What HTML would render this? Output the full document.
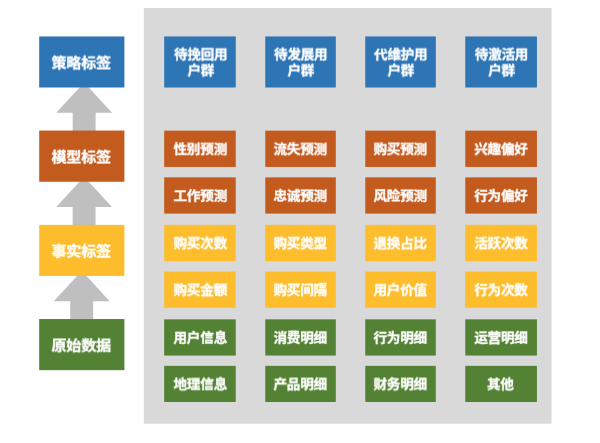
<!DOCTYPE html>
<html lang="zh-CN"><head><meta charset="utf-8"><title>标签体系</title>
<style>
html,body{margin:0;padding:0;background:#fff;}
body{width:600px;height:443px;position:relative;overflow:hidden;font-family:"Liberation Sans","Noto Sans CJK SC",sans-serif;}
svg{position:absolute;left:0;top:0;}
.bx{position:absolute;color:#fff;font-weight:bold;display:flex;align-items:center;justify-content:center;text-align:center;white-space:nowrap;}
.bx span{display:block;-webkit-text-stroke:0.3px #fff;}
.c{font-size:12.9px;line-height:16px;letter-spacing:-0.2px;}
.c span{transform:translateX(var(--dx)) scaleX(1.055);}
.c2 span{transform:translateX(var(--dx)) scaleX(1.05);}
.l{font-size:14.1px;letter-spacing:-0.2px;}
.l span{transform:translateX(var(--dx)) scaleX(1.07);}
</style></head><body>
<svg width="600" height="443" viewBox="0 0 600 443">
<rect x="143.75" y="8" width="407.8" height="415.65" fill="#d9d9d9"/>
<polygon fill="#bfbfbf" points="84.15,82.4 112.05,112.8 95.6,112.8 95.6,136.4 72.7,136.4 72.7,112.8 56.25,112.8"/>
<polygon fill="#bfbfbf" points="84.1,176.7 112,207.1 95.55,207.1 95.55,230.7 72.65,230.7 72.65,207.1 56.2,207.1"/>
<polygon fill="#bfbfbf" points="81.75,270.75 109.65,301.15 93.2,301.15 93.2,324.75 70.3,324.75 70.3,301.15 53.85,301.15"/>
<rect x="39.2" y="36.45" width="85.2" height="51.05" fill="#2e75b6"/>
<rect x="39.2" y="130.55" width="85.2" height="51.2" fill="#c35a1e"/>
<rect x="39.2" y="224.9" width="85.2" height="51" fill="#fdbd2d"/>
<rect x="39.2" y="319.05" width="85.2" height="51.1" fill="#548235"/>
<rect x="164.18" y="36.45" width="71.57" height="51.05" fill="#2e75b6"/>
<rect x="265.27" y="36.45" width="70.53" height="51.05" fill="#2e75b6"/>
<rect x="365.27" y="36.45" width="70.53" height="51.05" fill="#2e75b6"/>
<rect x="465.27" y="36.45" width="71.66" height="51.05" fill="#2e75b6"/>
<rect x="164.18" y="130.65" width="71.57" height="36.3" fill="#c35a1e"/>
<rect x="265.27" y="130.65" width="70.53" height="36.3" fill="#c35a1e"/>
<rect x="365.27" y="130.65" width="70.53" height="36.3" fill="#c35a1e"/>
<rect x="465.27" y="130.65" width="71.66" height="36.3" fill="#c35a1e"/>
<rect x="164.18" y="177.35" width="71.57" height="36.25" fill="#c35a1e"/>
<rect x="265.27" y="177.35" width="70.53" height="36.25" fill="#c35a1e"/>
<rect x="365.27" y="177.35" width="70.53" height="36.25" fill="#c35a1e"/>
<rect x="465.27" y="177.35" width="71.66" height="36.25" fill="#c35a1e"/>
<rect x="164.18" y="224.85" width="71.57" height="36.3" fill="#fdbd2d"/>
<rect x="265.27" y="224.85" width="70.53" height="36.3" fill="#fdbd2d"/>
<rect x="365.27" y="224.85" width="70.53" height="36.3" fill="#fdbd2d"/>
<rect x="465.27" y="224.85" width="71.66" height="36.3" fill="#fdbd2d"/>
<rect x="164.18" y="271.55" width="71.57" height="36.25" fill="#fdbd2d"/>
<rect x="265.27" y="271.55" width="70.53" height="36.25" fill="#fdbd2d"/>
<rect x="365.27" y="271.55" width="70.53" height="36.25" fill="#fdbd2d"/>
<rect x="465.27" y="271.55" width="71.66" height="36.25" fill="#fdbd2d"/>
<rect x="164.18" y="319.35" width="71.57" height="36.2" fill="#548235"/>
<rect x="265.27" y="319.35" width="70.53" height="36.2" fill="#548235"/>
<rect x="365.27" y="319.35" width="70.53" height="36.2" fill="#548235"/>
<rect x="465.27" y="319.35" width="71.66" height="36.2" fill="#548235"/>
<rect x="164.18" y="365.85" width="71.57" height="36.15" fill="#548235"/>
<rect x="265.27" y="365.85" width="70.53" height="36.15" fill="#548235"/>
<rect x="365.27" y="365.85" width="70.53" height="36.15" fill="#548235"/>
<rect x="465.27" y="365.85" width="71.66" height="36.15" fill="#548235"/>
</svg>
<svg width="0" height="0" aria-hidden="true"><defs>
<filter id="f1" x="-5%" y="-15%" width="110%" height="130%" color-interpolation-filters="sRGB"><feConvolveMatrix order="3" kernelMatrix="0.02 0.36 0.02 0.03 0.54 0.03 0 0 0" divisor="1" edgeMode="none" preserveAlpha="false"/></filter>
<filter id="f3" x="-5%" y="-15%" width="110%" height="130%" color-interpolation-filters="sRGB"><feConvolveMatrix order="3" kernelMatrix="0.01 0.18 0.01 0.04 0.72 0.04 0 0 0" divisor="1" edgeMode="none" preserveAlpha="false"/></filter>
<filter id="f5" x="-5%" y="-15%" width="110%" height="130%" color-interpolation-filters="sRGB"><feConvolveMatrix order="3" kernelMatrix="0.0025 0.045 0.0025 0.045 0.81 0.045 0.0025 0.045 0.0025" divisor="1" edgeMode="none" preserveAlpha="false"/></filter>
<filter id="f7" x="-5%" y="-15%" width="110%" height="130%" color-interpolation-filters="sRGB"><feConvolveMatrix order="3" kernelMatrix="0 0 0 0.04 0.72 0.04 0.01 0.18 0.01" divisor="1" edgeMode="none" preserveAlpha="false"/></filter>
<filter id="f8" x="-5%" y="-15%" width="110%" height="130%" color-interpolation-filters="sRGB"><feConvolveMatrix order="3" kernelMatrix="0 0 0 0.035 0.63 0.035 0.015 0.27 0.015" divisor="1" edgeMode="none" preserveAlpha="false"/></filter>
<filter id="f9" x="-5%" y="-15%" width="110%" height="130%" color-interpolation-filters="sRGB"><feConvolveMatrix order="3" kernelMatrix="0 0 0 0.03 0.54 0.03 0.02 0.36 0.02" divisor="1" edgeMode="none" preserveAlpha="false"/></filter>
<filter id="f10" x="-5%" y="-15%" width="110%" height="130%" color-interpolation-filters="sRGB"><feConvolveMatrix order="3" kernelMatrix="0 0 0 0.025 0.45 0.025 0.025 0.45 0.025" divisor="1" edgeMode="none" preserveAlpha="false"/></filter>
</defs></svg>
<div class="bx l" style="left:39px;top:36px;width:86px;height:52px;--dx:-0.6px"><span style="filter:url(#f1)">策略标签</span></div>
<div class="bx l" style="left:39px;top:130px;width:86px;height:52px;--dx:-0.6px"><span style="filter:url(#f3)">模型标签</span></div>
<div class="bx l" style="left:39px;top:224px;width:86px;height:52px;--dx:-0.6px"><span style="filter:url(#f5)">事实标签</span></div>
<div class="bx l" style="left:39px;top:318px;width:86px;height:52px;--dx:-0.6px"><span style="filter:url(#f8)">原始数据</span></div>
<div class="bx c c2" style="left:164px;top:37px;width:72px;height:52px;--dx:0.37px"><span style="filter:url(#f1)">待挽回用<br>户群</span></div>
<div class="bx c c2" style="left:265px;top:37px;width:72px;height:52px;--dx:-0.67px"><span style="filter:url(#f1)">待发展用<br>户群</span></div>
<div class="bx c c2" style="left:365px;top:37px;width:72px;height:52px;--dx:-0.67px"><span style="filter:url(#f1)">代维护用<br>户群</span></div>
<div class="bx c c2" style="left:465px;top:37px;width:72px;height:52px;--dx:0.1px"><span style="filter:url(#f1)">待激活用<br>户群</span></div>
<div class="bx c" style="left:164px;top:131px;width:72px;height:36px;--dx:-0.13px"><span style="filter:url(#f8)">性别预测</span></div>
<div class="bx c" style="left:265px;top:131px;width:72px;height:36px;--dx:-1.17px"><span style="filter:url(#f8)">流失预测</span></div>
<div class="bx c" style="left:365px;top:131px;width:72px;height:36px;--dx:-1.17px"><span style="filter:url(#f8)">购买预测</span></div>
<div class="bx c" style="left:465px;top:131px;width:72px;height:36px;--dx:-0.4px"><span style="filter:url(#f8)">兴趣偏好</span></div>
<div class="bx c" style="left:164px;top:178px;width:72px;height:36px;--dx:-0.13px"><span style="filter:url(#f5)">工作预测</span></div>
<div class="bx c" style="left:265px;top:178px;width:72px;height:36px;--dx:-1.17px"><span style="filter:url(#f5)">忠诚预测</span></div>
<div class="bx c" style="left:365px;top:178px;width:72px;height:36px;--dx:-1.17px"><span style="filter:url(#f5)">风险预测</span></div>
<div class="bx c" style="left:465px;top:178px;width:72px;height:36px;--dx:-0.4px"><span style="filter:url(#f5)">行为偏好</span></div>
<div class="bx c" style="left:164px;top:225px;width:72px;height:36px;--dx:-0.13px"><span style="filter:url(#f10)">购买次数</span></div>
<div class="bx c" style="left:265px;top:225px;width:72px;height:36px;--dx:-1.17px"><span style="filter:url(#f10)">购买类型</span></div>
<div class="bx c" style="left:365px;top:225px;width:72px;height:36px;--dx:-1.17px"><span style="filter:url(#f10)">退换占比</span></div>
<div class="bx c" style="left:465px;top:225px;width:72px;height:36px;--dx:-0.4px"><span style="filter:url(#f10)">活跃次数</span></div>
<div class="bx c" style="left:164px;top:272px;width:72px;height:36px;--dx:-0.13px"><span style="filter:url(#f7)">购买金额</span></div>
<div class="bx c" style="left:265px;top:272px;width:72px;height:36px;--dx:-1.17px"><span style="filter:url(#f7)">购买间隔</span></div>
<div class="bx c" style="left:365px;top:272px;width:72px;height:36px;--dx:-1.17px"><span style="filter:url(#f7)">用户价值</span></div>
<div class="bx c" style="left:465px;top:272px;width:72px;height:36px;--dx:-0.4px"><span style="filter:url(#f7)">行为次数</span></div>
<div class="bx c" style="left:164px;top:320px;width:72px;height:36px;--dx:-0.13px"><span style="filter:url(#f5)">用户信息</span></div>
<div class="bx c" style="left:265px;top:320px;width:72px;height:36px;--dx:-1.17px"><span style="filter:url(#f5)">消费明细</span></div>
<div class="bx c" style="left:365px;top:320px;width:72px;height:36px;--dx:-1.17px"><span style="filter:url(#f5)">行为明细</span></div>
<div class="bx c" style="left:465px;top:320px;width:72px;height:36px;--dx:-0.4px"><span style="filter:url(#f5)">运营明细</span></div>
<div class="bx c" style="left:164px;top:366px;width:72px;height:36px;--dx:-0.13px"><span style="filter:url(#f9)">地理信息</span></div>
<div class="bx c" style="left:265px;top:366px;width:72px;height:36px;--dx:-1.17px"><span style="filter:url(#f9)">产品明细</span></div>
<div class="bx c" style="left:365px;top:366px;width:72px;height:36px;--dx:-1.17px"><span style="filter:url(#f9)">财务明细</span></div>
<div class="bx c" style="left:465px;top:366px;width:72px;height:36px;--dx:-0.4px"><span style="filter:url(#f9)">其他</span></div>
</body></html>
